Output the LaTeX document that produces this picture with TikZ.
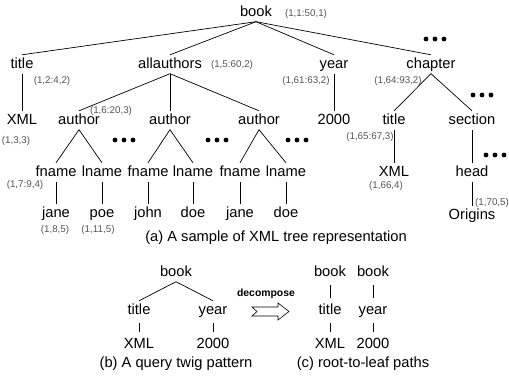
\documentclass[tikz,border=0pt]{standalone}
\usepackage{fontspec}
\setmainfont{Liberation Sans}
\usetikzlibrary{calc}
\definecolor{ink}{HTML}{000000}
\definecolor{subtle}{HTML}{555555}

\begin{document}
\begin{tikzpicture}[
  x=1pt, y=-1pt,
  lbl/.style={font=\fontsize{14.7}{16}\selectfont, text=ink, anchor=base, inner sep=2.5pt, text height=10.5pt, text depth=3pt},
  code/.style={font=\fontsize{9.8}{11}\selectfont, text=subtle, anchor=base, inner sep=0pt},
  captxt/.style={font=\fontsize{14.7}{16}\selectfont, text=ink, anchor=base, inner sep=0pt},
  link/.style={draw=ink, line width=0.7pt},
  short/.style={link, shorten <=3pt, shorten >=3pt},
  moredots/.pic={\foreach \dx in {-9,0,9} \fill[ink] (\dx,0) circle (2.4);}
]
\useasboundingbox (0,0) rectangle (509,381);

% ---------- (a) XML tree ----------
\node[lbl] (book) at (256,16) {book};
\node[code] (cbook) at (306,16.7) {(1,1:50,1)};

\node[lbl] (title) at (22,68) {title};
\node[lbl] (allauth) at (170,68) {allauthors};
\node[lbl] (year) at (334,68) {year};
\node[lbl] (chapter) at (431,68) {chapter};
\node[code] (ctitle) at (52,83) {(1,2:4,2)};
\node[code] (callauth) at (232,67) {(1,5:60,2)};
\node[code] (cyear) at (306,83) {(1,61:63,2)};
\node[code] (cchapter) at (398,83) {(1,64:93,2)};
\pic (dchap) at (435,39) {moredots};

\node[lbl] (xml) at (22,124) {XML};
\node[lbl] (auth1) at (79,124) {author};
\node[lbl] (auth2) at (170,124) {author};
\node[lbl] (auth3) at (259,124) {author};
\node[lbl] (yr) at (334,124) {2000};
\node[lbl] (ctitle2) at (394,124) {title};
\node[lbl] (section) at (472,124) {section};
\node[code] (cxml) at (16,143) {(1,3,3)};
\node[code] (cauth1) at (111,113) {(1,6:20,3)};
\node[code] (cctitle2) at (370,139) {(1,65:67,3)};
\pic (dauth1) at (124,140) {moredots};
\pic (dauth2) at (217,140) {moredots};
\pic (dauth3) at (297,140) {moredots};
\pic (dsec) at (482,95) {moredots};

\node[lbl] (fname1) at (56,176) {fname};
\node[lbl] (lname1) at (102,176) {lname};
\node[lbl] (fname2) at (148,176) {fname};
\node[lbl] (lname2) at (193,176) {lname};
\node[lbl] (fname3) at (240,176) {fname};
\node[lbl] (lname3) at (286,176) {lname};
\node[lbl] (xml2) at (394,176) {XML};
\node[lbl] (head) at (472,176) {head};
\node[code] (cfname1) at (25,187) {(1,7:9,4)};
\node[code] (cxml2) at (386,188) {(1,66,4)};
\pic (dhead) at (495,155) {moredots};

\node[lbl] (jane1) at (56,217) {jane};
\node[lbl] (poe) at (102,217) {poe};
\node[lbl] (john) at (148,217) {john};
\node[lbl] (doe1) at (193,217) {doe};
\node[lbl] (jane2) at (240,217) {jane};
\node[lbl] (doe2) at (286,217) {doe};
\node[lbl] (origins) at (472,219) {Origins};
\node[code] (cjane1) at (55,232) {(1,8,5)};
\node[code] (cpoe) at (98,232) {(1,11,5)};
\node[code] (chead) at (492,205) {(1,70,5)};

\foreach \c in {title,allauth,year,chapter} \draw[link] (book.south) -- (\c.north);
\foreach \c in {auth1,auth2,auth3} \draw[link] (allauth.south) -- (\c.north);
\draw[link] (title.south) -- (xml.north);
\draw[link] (year.south) -- (yr.north);
\draw[link] (chapter.south) -- (ctitle2.north);
\draw[link] (chapter.south) -- (section.north);
\draw[link] (ctitle2.south) -- (xml2.north);
\draw[link] (section.south) -- (head.north);
\draw[link] (head.south) -- (origins.north);
\foreach \a/\f/\l in {auth1/fname1/lname1, auth2/fname2/lname2, auth3/fname3/lname3} {
  \draw[link] (\f.north) -- (\a.south) -- (\l.north);
}
\foreach \p/\q in {fname1/jane1, lname1/poe, fname2/john, lname2/doe1, fname3/jane2, lname3/doe2}
  \draw[link] (\p.south) -- (\q.north);

\node[captxt] (capa) at (276,241) {(a) A sample of XML tree representation};

% ---------- (b) query twig ----------
\node[lbl] (qbook) at (176,276) {book};
\node[lbl] (qtitle) at (139,314) {title};
\node[lbl] (qyear) at (213,314) {year};
\node[lbl] (qxml) at (139,348) {XML};
\node[lbl] (qyr) at (213,348) {2000};
\draw[link] (qtitle.north) -- (qbook.south) -- (qyear.north);
\draw[short] (qtitle.south) -- (qxml.north);
\draw[short] (qyear.south) -- (qyr.north);
\node[captxt] (capb) at (176,367) {(b) A query twig pattern};

% ---------- decompose ----------
\node[captxt, font=\fontsize{10.4}{12}\selectfont\bfseries] (decname) at (266,296) {decompose};
\coordinate (decomp) at (252,311.5);
\draw[ink, line width=0.6pt, fill=white, shift={(decomp)}]
  (0,-4.5) -- (26,-4.5) -- (26,-8.5) -- (37,0) -- (26,8.5) -- (26,4.5) -- (0,4.5) -- (5,0) -- cycle;

% ---------- (c) paths ----------
\node[lbl] (pbook1) at (330,276) {book};
\node[lbl] (ptitle) at (330,314) {title};
\node[lbl] (pxml) at (330,348) {XML};
\node[lbl] (pbook2) at (373,276) {book};
\node[lbl] (pyear) at (373,314) {year};
\node[lbl] (pyr) at (373,348) {2000};
\draw[short] (pbook1.south) -- (ptitle.north);
\draw[short] (ptitle.south) -- (pxml.north);
\draw[short] (pbook2.south) -- (pyear.north);
\draw[short] (pyear.south) -- (pyr.north);
\node[captxt] (capc) at (363,367) {(c) root-to-leaf paths};

\end{tikzpicture}
\end{document}
